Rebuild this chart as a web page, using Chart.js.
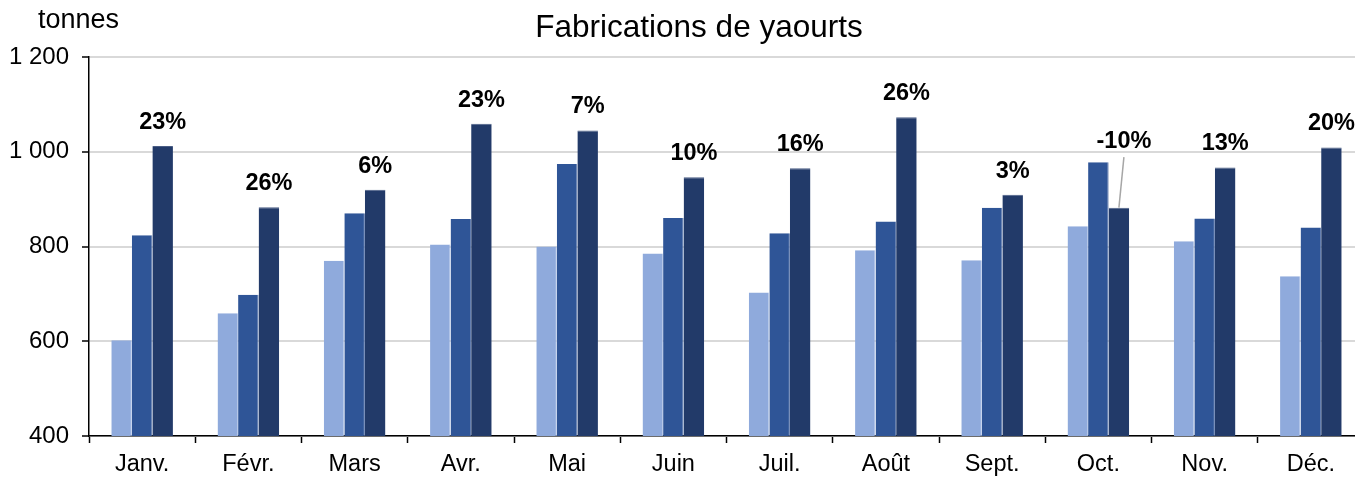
<!DOCTYPE html>
<html>
<head>
<meta charset="utf-8">
<script src="https://cdn.jsdelivr.net/npm/chart.js@4/dist/chart.umd.min.js"></script>
<style>
  html, body { margin: 0; padding: 0; background: #fff; }
  #wrap { width: 1355px; height: 477px; overflow: hidden; }
</style>
</head>
<body>
<div id="wrap"><canvas id="chart" width="1365" height="477"></canvas></div>
<script>
const months = ["Janv.", "Févr.", "Mars", "Avr.", "Mai", "Juin", "Juil.", "Août", "Sept.", "Oct.", "Nov.", "Déc."];
const serieA = [602, 659, 770, 804, 800, 785, 703, 792, 771, 843, 811, 737];
const serieB = [824, 698, 870, 858, 974, 860, 828, 853, 882, 978, 859, 840];
const serieC = [1012, 883, 920, 1059, 1045, 946, 965, 1073, 909, 882, 967, 1009];
const growthLabels = ["23%", "26%", "6%", "23%", "7%", "10%", "16%", "26%", "3%", "-10%", "13%", "20%"];
const yTicks = [400, 600, 800, 1000, 1200];

const FONT = "'Liberation Sans', Arial, sans-serif";

// titles + % labels over the last series
const overlay = {
  id: "overlay",
  afterDatasetsDraw(chart) {
    const ctx = chart.ctx;
    const yScale = chart.scales.y;
    const metaC = chart.getDatasetMeta(2);
    ctx.save();
    ctx.fillStyle = "#000";
    ctx.font = "bold 23.5px " + FONT;
    ctx.textAlign = "center";
    ctx.textBaseline = "alphabetic";
    metaC.data.forEach((bar, i) => {
      const label = growthLabels[i];
      if (label.startsWith("-")) {
        // negative: label above the highest bar, with a leader line
        const top = yScale.getPixelForValue(Math.max(serieA[i], serieB[i], serieC[i]));
        const ly = top - 14;
        const lx = bar.x + 5;
        ctx.fillText(label, lx, ly);
        ctx.strokeStyle = "#a6a6a6";
        ctx.lineWidth = 1.5;
        ctx.beginPath();
        ctx.moveTo(lx, ly + 9);
        ctx.lineTo(bar.x, bar.y);
        ctx.stroke();
      } else {
        ctx.fillText(label, bar.x, bar.y - 17);
      }
    });
    ctx.font = "31.5px " + FONT;
    ctx.fillText("Fabrications de yaourts", 699, 37);
    ctx.font = "27px " + FONT;
    ctx.textAlign = "left";
    ctx.fillText("tonnes", 38, 28);
    ctx.restore();
  }
};

new Chart(document.getElementById("chart"), {
  type: "bar",
  data: {
    labels: months,
    datasets: [
      { data: serieA, backgroundColor: "#8FAADC", borderColor: "#b4c6e7", borderWidth: { left: 0, right: 1, top: 0 }, borderSkipped: "bottom" },
      { data: serieB, backgroundColor: "#2F5597", borderColor: "#5874a8", borderWidth: { left: 0, right: 1, top: 0 }, borderSkipped: "bottom" },
      { data: serieC, backgroundColor: "#223A69", borderColor: "#4a5d85", borderWidth: { left: 0, right: 0, top: 1 }, borderSkipped: "bottom" }
    ]
  },
  options: {
    responsive: false,
    animation: false,
    layout: { padding: { top: 57, right: 1, left: 0, bottom: 0 } },
    plugins: { legend: { display: false }, tooltip: { enabled: false } },
    datasets: { bar: { categoryPercentage: 0.58, barPercentage: 1.0 } },
    scales: {
      x: {
        grid: { display: true, drawOnChartArea: false, offset: true, tickLength: 7, tickColor: "#000", tickWidth: 1.5 },
        border: { color: "#000", width: 1.5 },
        ticks: { color: "#000", padding: 7, font: { size: 23.5, family: FONT } },
        afterFit(s) { s.height = 41; }
      },
      y: {
        min: 400,
        max: 1200,
        afterBuildTicks(s) { s.ticks = yTicks.map(v => ({ value: v })); },
        grid: { color: "#d9d9d9", lineWidth: 2, tickLength: 7, tickColor: "#000", tickWidth: 1.5 },
        border: { color: "#000", width: 1.5 },
        ticks: {
          color: "#000",
          padding: 13,
          font: { size: 24, family: FONT },
          callback: v => String(v).replace(/\B(?=(\d{3})+(?!\d))/g, " ")
        },
        afterFit(s) { s.width = 89; }
      }
    }
  },
  plugins: [overlay]
});
</script>
</body>
</html>
